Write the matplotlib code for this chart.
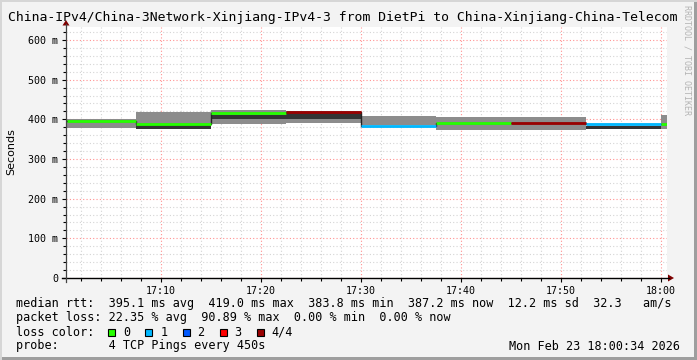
import matplotlib
matplotlib.use("Agg")
import matplotlib.pyplot as plt
import numpy as np
from matplotlib.lines import Line2D
from matplotlib.patches import Rectangle, Polygon

W, H = 697, 360
MONO = "DejaVu Sans Mono"

title = "China-IPv4/China-3Network-Xinjiang-IPv4-3 from DietPi to China-Xinjiang-China-Telecom"

# time in minutes after 17:00, one entry per 450s step
seg_start = [0.567, 7.5, 15.0, 22.5, 30.0, 37.5, 45.0, 52.5, 60.0]
seg_end = [7.5, 15.0, 22.5, 30.0, 37.5, 45.0, 52.5, 60.0, 60.567]
# smoke (ms)
smoke_lo = [378.9, 375.6, 388.2, 391.5, 385.0, 373.1, 373.1, 375.6, 375.6]
smoke_hi = [400.8, 418.5, 423.5, 420.0, 408.4, 405.8, 405.8, 383.5, 410.9]
dark_lo = [np.nan, 375.6, 400.8, 400.8, np.nan, np.nan, np.nan, 375.6, np.nan]
dark_hi = [np.nan, 385.7, 411.6, 418.0, np.nan, np.nan, np.nan, 383.5, np.nan]
median = [397.0, 388.0, 415.0, 419.0, 383.8, 390.7, 390.7, 387.2, 387.2]
loss_class = [0, 0, 0, 4, 1, 0, 4, 1, 0]

loss_colors = ["#26ff00", "#00b8ff", "#0059ff", "#ff0000", "#990000"]
loss_labels = ["0", "1", "2", "3", "4/4"]

x_ticks = [10, 20, 30, 40, 50, 60]
x_labels = ["17:10", "17:20", "17:30", "17:40", "17:50", "18:00"]
y_ticks = [0, 100, 200, 300, 400, 500, 600]
y_labels = ["0", "100 m", "200 m", "300 m", "400 m", "500 m", "600 m"]

row_rtt = "median rtt:  395.1 ms avg  419.0 ms max  383.8 ms min  387.2 ms now  12.2 ms sd  32.3   am/s"
row_loss = "packet loss: 22.35 % avg  90.89 % max  0.00 % min  0.00 % now"
row_probe = "probe:       4 TCP Pings every 450s"
stamp = "Mon Feb 23 18:00:34 2026"


def fx(x):
    return x / W


def fy(y):
    return 1 - y / H


fig = plt.figure(figsize=(W / 100, H / 100), dpi=100, facecolor="#f3f3f3")

ax = fig.add_axes([fx(66), fy(278), (667 - 66) / W, (278 - 27) / H])
ax.set_facecolor("white")
ax.set_xlim(0.5, 60.6)
ax.set_ylim(0, 632.7)
for s in ax.spines.values():
    s.set_visible(False)

ax.set_xticks(x_ticks)
ax.set_xticklabels(x_labels, family=MONO, fontsize=7.2)
ax.set_xticks(np.arange(2, 61, 2), minor=True)
ax.set_yticks(y_ticks)
ax.set_yticklabels(y_labels, family=MONO, fontsize=7.2)
ax.set_yticks(np.arange(20, 632, 20), minor=True)
ax.tick_params(which="major", length=3, width=0.8, pad=2.5, color="black")
ax.tick_params(which="minor", length=2, width=0.8, color="black")
ax.grid(which="minor", color="#d4d4d4", linestyle=(0, (1, 2)), linewidth=0.8)
ax.grid(which="major", color="#ff9090", linestyle=(0, (1, 2)), linewidth=0.8)
ax.set_axisbelow(True)

widths = np.array(seg_end) - np.array(seg_start)
ax.bar(seg_start, np.array(smoke_hi) - np.array(smoke_lo), width=widths,
       bottom=smoke_lo, align="edge", color="#8c8c8c", linewidth=0)
ax.bar(seg_start, np.array(dark_hi) - np.array(dark_lo), width=widths,
       bottom=dark_lo, align="edge", color="#333333", linewidth=0)
ax.step(seg_start + [seg_end[-1]], median + [median[-1]], where="post",
        color="#222222", linewidth=1)
ax.hlines(median, seg_start, seg_end,
          colors=[loss_colors[c] for c in loss_class], linewidth=2)

# axis lines and arrows
fig.add_artist(Line2D([fx(62), fx(669)], [fy(278), fy(278)], color="black", lw=1))
fig.add_artist(Line2D([fx(66), fx(66)], [fy(282), fy(24)], color="#444444", lw=0.9))
fig.add_artist(Polygon([(fx(668), fy(274.5)), (fx(668), fy(281.5)), (fx(674), fy(278))],
                       closed=True, color="#7f0000", lw=0))
fig.add_artist(Polygon([(fx(62.5), fy(25.5)), (fx(69.5), fy(25.5)), (fx(66), fy(20))],
                       closed=True, color="#7f0000", lw=0))

fig.text(fx(8), fy(18), title, family=MONO, fontsize=9.42, va="center", ha="left")
fig.text(fx(11), fy(152), "Seconds", fontsize=8, rotation=90, va="center", ha="center")
fig.text(fx(687), fy(5), "RRDTOOL / TOBI OETIKER", family=MONO, fontsize=6,
         rotation=270, va="top", ha="center", color="#b4b4b4")

fig.text(fx(16), fy(304), row_rtt, family=MONO, fontsize=8.45, va="center")
fig.text(fx(16), fy(318), row_loss, family=MONO, fontsize=8.45, va="center")
fig.text(fx(16), fy(332), "loss color:", family=MONO, fontsize=8.45, va="center")
for i, (c, lab) in enumerate(zip(loss_colors, loss_labels)):
    bx = 108.3 + i * 37.1
    fig.add_artist(Rectangle((fx(bx), fy(336)), 7 / W, 7 / H, facecolor=c,
                             edgecolor="black", lw=0.8))
    fig.text(fx(bx + 15), fy(332), lab, family=MONO, fontsize=8.45, va="center")
fig.text(fx(16), fy(346), row_probe, family=MONO, fontsize=8.45, va="center")
fig.text(fx(680), fy(346), stamp, family=MONO, fontsize=8.45, va="center", ha="right")

# frame shading
fig.add_artist(Rectangle((0, 0), 1, 3 / H, color="#9e9e9e", lw=0))
fig.add_artist(Rectangle((fx(694), 0), 3 / W, 1, color="#9e9e9e", lw=0))
fig.add_artist(Rectangle((0, fy(2)), 1, 2 / H, color="#d6d6d6", lw=0))
fig.add_artist(Rectangle((0, 0), 2 / W, 1, color="#d6d6d6", lw=0))

fig.savefig("out.png", dpi=100, facecolor=fig.get_facecolor())
